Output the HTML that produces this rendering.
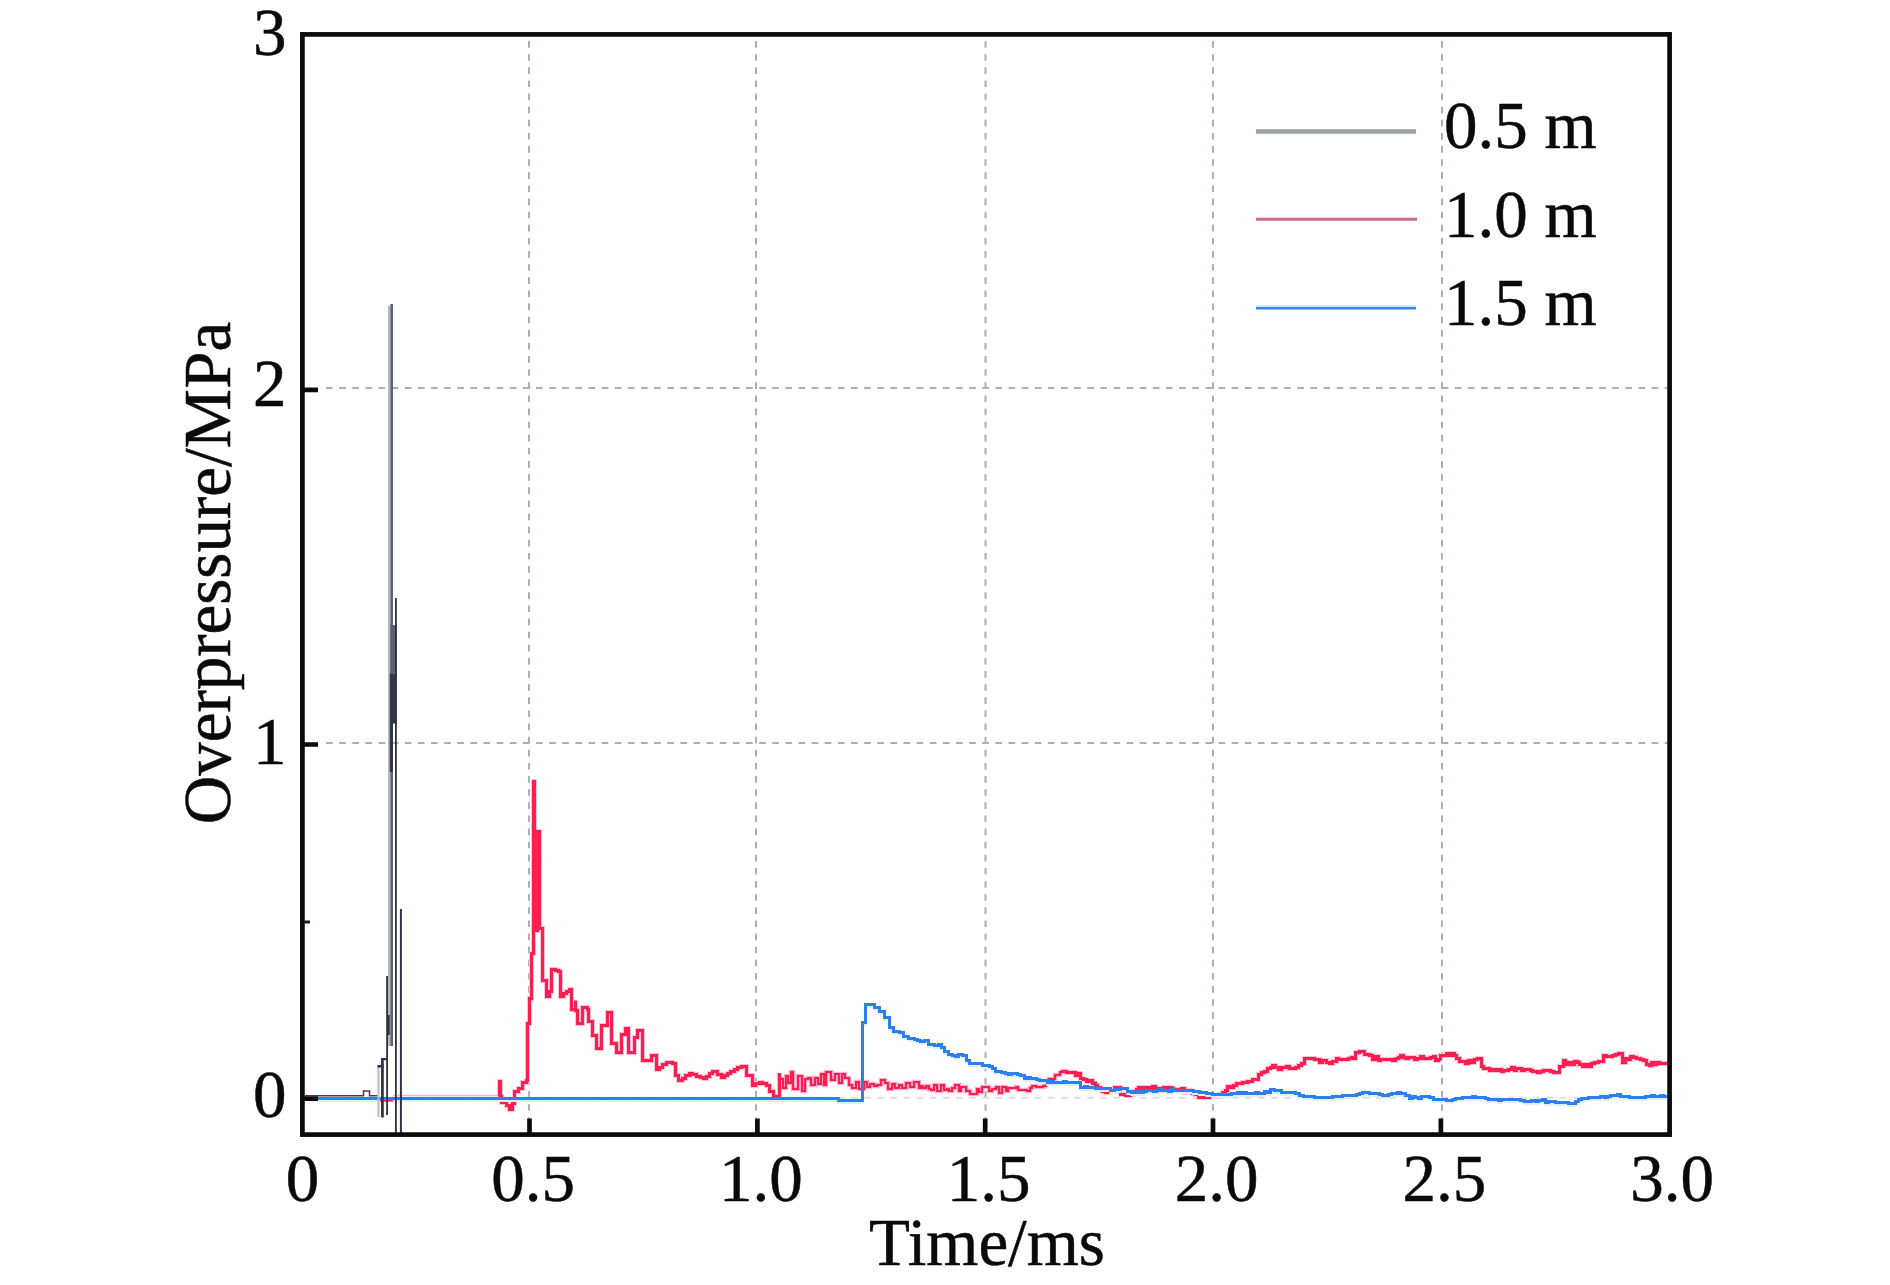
<!DOCTYPE html><html><head><meta charset="utf-8"><style>html,body{margin:0;padding:0;background:#fff;width:1890px;height:1285px;overflow:hidden;position:relative}.t{font-family:'Liberation Serif',serif;font-size:67px;line-height:67px;color:#0a0a0a;-webkit-text-stroke:0.5px #0a0a0a;position:absolute;white-space:nowrap} .yl{text-align:right;width:100px} .xl{text-align:center;width:160px}</style></head><body>
<svg width="1890" height="1285" viewBox="0 0 1890 1285" style="position:absolute;left:0;top:0">
<path d="M529 41V1132 M756 41V1132 M985.5 41V1132 M1213 41V1132 M1442 41V1132 M326 743H1667 M326 388.1H1667" stroke="#a8b2b0" stroke-width="2" stroke-dasharray="6.7 6.425" fill="none"/>
<path d="M326 1097.8H1667" stroke="#dcdfdc" stroke-width="2" stroke-dasharray="6.7 6.425" fill="none"/>
<path d="M393 1095.5H498" stroke="#ffb0cf" stroke-width="1.6" fill="none"/>
<path d="M498.5 1095.5 L499.5 1095.5 L499.5 1081.5 L500.5 1081.5 L500.5 1096.5 L501.5 1096.5 L501.5 1102.5 L506.5 1102.5 L506.5 1105.5 L509.5 1105.5 L509.5 1109.5 L512.5 1109.5 L512.5 1103.5 L514.5 1103.5 L514.5 1091.5 L518.5 1091.5 L518.5 1088.5 L522.5 1088.5 L522.5 1082.5 L526.5 1082.5 L526.5 1080.5 L527.5 1080.5 L527.5 1023.5 L529.5 1023.5 L529.5 998.5 L531.5 998.5 L531.5 953.5 L533.5 953.5 L533.5 781.5 L534.5 781.5 L534.5 930.5 L536.5 930.5 L536.5 930.5 L537.5 930.5 L537.5 831.5 L539.5 831.5 L539.5 831.5 L539.5 831.5 L539.5 928.5 L542.5 928.5 L542.5 941.5 L542.5 941.5 L542.5 980.5 L546.5 980.5 L546.5 996.5 L549.5 996.5 L549.5 991.5 L551.5 991.5 L551.5 969.5 L555.5 969.5 L555.5 970.5 L558.5 970.5 L558.5 971.5 L560.5 971.5 L560.5 996.5 L563.5 996.5 L563.5 993.5 L566.5 993.5 L566.5 991.5 L569.5 991.5 L569.5 989.5 L571.5 989.5 L571.5 1009.5 L575.5 1009.5 L575.5 1000.5 L575.5 1000.5 L575.5 1010.5 L577.5 1010.5 L577.5 1023.5 L582.5 1023.5 L582.5 1007.5 L587.5 1007.5 L587.5 1009.5 L588.5 1009.5 L588.5 1021.5 L592.5 1021.5 L592.5 1035.5 L596.5 1035.5 L596.5 1048.5 L601.5 1048.5 L601.5 1025.5 L607.5 1025.5 L607.5 1012.5 L611.5 1012.5 L611.5 1043.5 L616.5 1043.5 L616.5 1052.5 L621.5 1052.5 L621.5 1034.5 L625.5 1034.5 L625.5 1028.5 L628.5 1028.5 L628.5 1052.5 L634.5 1052.5 L634.5 1037.5 L637.5 1037.5 L637.5 1030.5 L642.5 1030.5 L642.5 1035.5 L642.5 1035.5 L642.5 1060.5 L646.5 1060.5 L646.5 1060.5 L651.5 1060.5 L651.5 1055.5 L656.5 1055.5 L656.5 1069.5 L659.5 1069.5 L659.5 1067.5 L662.5 1067.5 L662.5 1064.5 L666.5 1064.5 L666.5 1062.5 L669.5 1062.5 L669.5 1062.5 L672.5 1062.5 L672.5 1063.5 L675.5 1063.5 L675.5 1063.5 L675.5 1063.5 L675.5 1075.5 L678.5 1075.5 L678.5 1080.5 L682.5 1080.5 L682.5 1078.5 L685.5 1078.5 L685.5 1075.5 L689.5 1075.5 L689.5 1073.5 L692.5 1073.5 L692.5 1074.5 L696.5 1074.5 L696.5 1076.5 L700.5 1076.5 L700.5 1077.5 L703.5 1077.5 L703.5 1078.5 L706.5 1078.5 L706.5 1076.5 L709.5 1076.5 L709.5 1073.5 L712.5 1073.5 L712.5 1071.5 L717.5 1071.5 L717.5 1074.5 L721.5 1074.5 L721.5 1077.5 L724.5 1077.5 L724.5 1075.5 L727.5 1075.5 L727.5 1073.5 L730.5 1073.5 L730.5 1071.5 L734.5 1071.5 L734.5 1069.5 L737.5 1069.5 L737.5 1067.5 L741.5 1067.5 L741.5 1066.5 L746.5 1066.5 L746.5 1075.5 L752.5 1075.5 L752.5 1085.5 L755.5 1085.5 L755.5 1083.5 L759.5 1083.5 L759.5 1082.5 L762.5 1082.5 L762.5 1083.5 L766.5 1083.5 L766.5 1085.5 L769.5 1085.5 L769.5 1091.5 L773.5 1091.5 L773.5 1096.5 L779.5 1096.5 L779.5 1073.5 M1060.5 1071.5 L1063.5 1071.5 L1063.5 1071.5 L1066.5 1071.5 L1066.5 1072.5 L1069.5 1072.5 L1069.5 1072.5 L1072.5 1072.5 L1072.5 1072.5 L1075.5 1072.5 L1075.5 1075.5 L1077.5 1075.5 L1077.5 1073.5 L1080.5 1073.5 L1080.5 1075.5 L1080.5 1075.5 L1080.5 1078.5 L1083.5 1078.5 L1083.5 1079.5 L1086.5 1079.5 L1086.5 1081.5 L1089.5 1081.5 L1089.5 1080.5 L1092.5 1080.5 L1092.5 1083.5 L1095.5 1083.5 L1095.5 1081.5 L1095.5 1081.5 L1095.5 1085.5 L1097.5 1085.5 L1097.5 1087.5 L1100.5 1087.5 L1100.5 1089.5 L1102.5 1089.5 L1102.5 1091.5 L1105.5 1091.5 L1105.5 1092.5 L1108.5 1092.5 L1108.5 1090.5 L1111.5 1090.5 L1111.5 1091.5 L1114.5 1091.5 L1114.5 1087.5 L1117.5 1087.5 L1117.5 1087.5 L1120.5 1087.5 L1120.5 1088.5 L1120.5 1088.5 L1120.5 1094.5 L1122.5 1094.5 L1122.5 1094.5 L1125.5 1094.5 L1125.5 1095.5 L1127.5 1095.5 L1127.5 1095.5 L1130.5 1095.5 L1130.5 1094.5 L1133.5 1094.5 L1133.5 1091.5 L1136.5 1091.5 L1136.5 1089.5 L1138.5 1089.5 L1138.5 1087.5 L1141.5 1087.5 L1141.5 1088.5 L1143.5 1088.5 L1143.5 1087.5 L1146.5 1087.5 L1146.5 1088.5 L1149.5 1088.5 L1149.5 1087.5 L1152.5 1087.5 L1152.5 1086.5 L1155.5 1086.5 L1155.5 1090.5 L1157.5 1090.5 L1157.5 1088.5 L1160.5 1088.5 L1160.5 1089.5 L1163.5 1089.5 L1163.5 1087.5 L1165.5 1087.5 L1165.5 1087.5 L1168.5 1087.5 L1168.5 1087.5 L1171.5 1087.5 L1171.5 1088.5 L1173.5 1088.5 L1173.5 1090.5 L1176.5 1090.5 L1176.5 1089.5 L1179.5 1089.5 L1179.5 1090.5 L1181.5 1090.5 L1181.5 1088.5 L1184.5 1088.5 L1184.5 1092.5 L1187.5 1092.5 L1187.5 1090.5 L1190.5 1090.5 L1190.5 1092.5 L1192.5 1092.5 L1192.5 1093.5 L1195.5 1093.5 L1195.5 1094.5 L1198.5 1094.5 L1198.5 1097.5 L1200.5 1097.5 L1200.5 1097.5 L1203.5 1097.5 L1203.5 1096.5 L1206.5 1096.5 L1206.5 1097.5 L1209.5 1097.5 L1209.5 1095.5 L1212.5 1095.5 L1212.5 1096.5 L1214.5 1096.5 L1214.5 1095.5 L1217.5 1095.5 L1217.5 1096.5 L1219.5 1096.5 L1219.5 1094.5 L1222.5 1094.5 L1222.5 1092.5 L1225.5 1092.5 L1225.5 1091.5 L1225.5 1091.5 L1225.5 1090.5 L1227.5 1090.5 L1227.5 1086.5 L1230.5 1086.5 L1230.5 1087.5 L1233.5 1087.5 L1233.5 1085.5 L1236.5 1085.5 L1236.5 1083.5 L1239.5 1083.5 L1239.5 1083.5 L1242.5 1083.5 L1242.5 1082.5 L1244.5 1082.5 L1244.5 1082.5 L1247.5 1082.5 L1247.5 1081.5 L1249.5 1081.5 L1249.5 1081.5 L1252.5 1081.5 L1252.5 1079.5 L1255.5 1079.5 L1255.5 1079.5 L1258.5 1079.5 L1258.5 1074.5 L1261.5 1074.5 L1261.5 1072.5 L1264.5 1072.5 L1264.5 1071.5 L1267.5 1071.5 L1267.5 1068.5 L1270.5 1068.5 L1270.5 1067.5 L1272.5 1067.5 L1272.5 1065.5 L1275.5 1065.5 L1275.5 1067.5 L1278.5 1067.5 L1278.5 1069.5 L1281.5 1069.5 L1281.5 1067.5 L1283.5 1067.5 L1283.5 1067.5 L1286.5 1067.5 L1286.5 1066.5 L1289.5 1066.5 L1289.5 1068.5 L1292.5 1068.5 L1292.5 1068.5 L1295.5 1068.5 L1295.5 1067.5 L1298.5 1067.5 L1298.5 1065.5 L1301.5 1065.5 L1301.5 1063.5 L1304.5 1063.5 L1304.5 1058.5 L1309.5 1058.5 L1309.5 1058.5 L1311.5 1058.5 L1311.5 1058.5 L1314.5 1058.5 L1314.5 1059.5 L1316.5 1059.5 L1316.5 1059.5 L1319.5 1059.5 L1319.5 1062.5 L1322.5 1062.5 L1322.5 1060.5 L1326.5 1060.5 L1326.5 1062.5 L1329.5 1062.5 L1329.5 1063.5 L1332.5 1063.5 L1332.5 1061.5 L1336.5 1061.5 L1336.5 1058.5 L1338.5 1058.5 L1338.5 1059.5 L1341.5 1059.5 L1341.5 1059.5 L1343.5 1059.5 L1343.5 1059.5 L1346.5 1059.5 L1346.5 1059.5 L1348.5 1059.5 L1348.5 1058.5 L1351.5 1058.5 L1351.5 1057.5 L1353.5 1057.5 L1353.5 1058.5 L1355.5 1058.5 L1355.5 1052.5 L1359.5 1052.5 L1359.5 1051.5 L1364.5 1051.5 L1364.5 1054.5 L1366.5 1054.5 L1366.5 1054.5 L1369.5 1054.5 L1369.5 1055.5 L1372.5 1055.5 L1372.5 1056.5 L1372.5 1056.5 L1372.5 1059.5 L1375.5 1059.5 L1375.5 1056.5 L1378.5 1056.5 L1378.5 1060.5 L1380.5 1060.5 L1380.5 1059.5 L1383.5 1059.5 L1383.5 1059.5 L1386.5 1059.5 L1386.5 1059.5 L1389.5 1059.5 L1389.5 1059.5 L1392.5 1059.5 L1392.5 1060.5 L1395.5 1060.5 L1395.5 1057.5 L1395.5 1057.5 L1395.5 1058.5 L1398.5 1058.5 L1398.5 1057.5 L1400.5 1057.5 L1400.5 1055.5 L1403.5 1055.5 L1403.5 1057.5 L1405.5 1057.5 L1405.5 1058.5 L1408.5 1058.5 L1408.5 1057.5 L1411.5 1057.5 L1411.5 1057.5 L1414.5 1057.5 L1414.5 1059.5 L1417.5 1059.5 L1417.5 1058.5 L1420.5 1058.5 L1420.5 1056.5 L1423.5 1056.5 L1423.5 1058.5 L1425.5 1058.5 L1425.5 1058.5 L1428.5 1058.5 L1428.5 1058.5 L1430.5 1058.5 L1430.5 1057.5 L1433.5 1057.5 L1433.5 1056.5 L1435.5 1056.5 L1435.5 1060.5 L1438.5 1060.5 L1438.5 1059.5 L1440.5 1059.5 L1440.5 1060.5 L1440.5 1060.5 L1440.5 1055.5 L1443.5 1055.5 L1443.5 1055.5 L1446.5 1055.5 L1446.5 1053.5 L1449.5 1053.5 L1449.5 1055.5 L1452.5 1055.5 L1452.5 1053.5 L1454.5 1053.5 L1454.5 1055.5 L1456.5 1055.5 L1456.5 1058.5 L1459.5 1058.5 L1459.5 1061.5 L1462.5 1061.5 L1462.5 1061.5 L1465.5 1061.5 L1465.5 1063.5 L1468.5 1063.5 L1468.5 1060.5 L1471.5 1060.5 L1471.5 1062.5 L1474.5 1062.5 L1474.5 1059.5 L1477.5 1059.5 L1477.5 1058.5 L1481.5 1058.5 L1481.5 1066.5 L1483.5 1066.5 L1483.5 1068.5 L1486.5 1068.5 L1486.5 1068.5 L1489.5 1068.5 L1489.5 1070.5 L1492.5 1070.5 L1492.5 1069.5 L1495.5 1069.5 L1495.5 1070.5 L1498.5 1070.5 L1498.5 1069.5 L1501.5 1069.5 L1501.5 1071.5 L1503.5 1071.5 L1503.5 1070.5 L1506.5 1070.5 L1506.5 1070.5 L1508.5 1070.5 L1508.5 1069.5 L1511.5 1069.5 L1511.5 1067.5 L1514.5 1067.5 L1514.5 1070.5 L1516.5 1070.5 L1516.5 1068.5 L1519.5 1068.5 L1519.5 1068.5 L1521.5 1068.5 L1521.5 1070.5 L1524.5 1070.5 L1524.5 1069.5 L1527.5 1069.5 L1527.5 1069.5 L1530.5 1069.5 L1530.5 1070.5 L1532.5 1070.5 L1532.5 1071.5 L1535.5 1071.5 L1535.5 1071.5 L1537.5 1071.5 L1537.5 1072.5 L1540.5 1072.5 L1540.5 1071.5 L1543.5 1071.5 L1543.5 1070.5 L1545.5 1070.5 L1545.5 1070.5 L1548.5 1070.5 L1548.5 1070.5 L1550.5 1070.5 L1550.5 1071.5 L1553.5 1071.5 L1553.5 1072.5 L1556.5 1072.5 L1556.5 1072.5 L1559.5 1072.5 L1559.5 1066.5 L1563.5 1066.5 L1563.5 1060.5 L1565.5 1060.5 L1565.5 1064.5 L1568.5 1064.5 L1568.5 1062.5 L1571.5 1062.5 L1571.5 1064.5 L1574.5 1064.5 L1574.5 1061.5 L1577.5 1061.5 L1577.5 1062.5 L1579.5 1062.5 L1579.5 1064.5 L1582.5 1064.5 L1582.5 1066.5 L1585.5 1066.5 L1585.5 1064.5 L1588.5 1064.5 L1588.5 1066.5 L1591.5 1066.5 L1591.5 1063.5 L1594.5 1063.5 L1594.5 1062.5 L1598.5 1062.5 L1598.5 1061.5 L1600.5 1061.5 L1600.5 1061.5 L1603.5 1061.5 L1603.5 1055.5 L1606.5 1055.5 L1606.5 1056.5 L1609.5 1056.5 L1609.5 1056.5 L1612.5 1056.5 L1612.5 1055.5 L1615.5 1055.5 L1615.5 1054.5 L1618.5 1054.5 L1618.5 1053.5 L1622.5 1053.5 L1622.5 1055.5 L1622.5 1055.5 L1622.5 1062.5 L1625.5 1062.5 L1625.5 1058.5 L1627.5 1058.5 L1627.5 1059.5 L1630.5 1059.5 L1630.5 1056.5 L1633.5 1056.5 L1633.5 1057.5 L1636.5 1057.5 L1636.5 1058.5 L1640.5 1058.5 L1640.5 1059.5 L1643.5 1059.5 L1643.5 1060.5 L1646.5 1060.5 L1646.5 1064.5 L1649.5 1064.5 L1649.5 1065.5 L1651.5 1065.5 L1651.5 1062.5 L1654.5 1062.5 L1654.5 1064.5 L1656.5 1064.5 L1656.5 1062.5 L1659.5 1062.5 L1659.5 1063.5 L1661.5 1063.5 L1661.5 1063.5 L1664.5 1063.5 L1664.5 1063.5 L1667.5 1063.5 L1667.5 1063.5" stroke="#ffc0dc" stroke-width="5" fill="none"/>
<path d="M779 1073 L779 1073 L779 1079 L783 1079 L783 1088 L786 1088 L786 1076 L788 1076 L788 1083 L791 1083 L791 1072 L793 1072 L793 1089 L798 1089 L798 1076 L802 1076 L802 1091 L805 1091 L805 1079 L808 1079 L808 1078 L811 1078 L811 1085 L815 1085 L815 1078 L818 1078 L818 1084 L821 1084 L821 1074 L824 1074 L824 1085 L826 1085 L826 1072 L831 1072 L831 1080 L835 1080 L835 1074 L839 1074 L839 1083 L842 1083 L842 1074 L845 1074 L845 1078 L849 1078 L849 1085 L852 1085 L852 1088 L856 1088 L856 1082 L859 1082 L859 1089 L864 1089 L864 1082 L867 1082 L867 1087 L870 1087 L870 1084 L874 1084 L874 1086 L877 1086 L877 1085 L881 1085 L881 1080 L885 1080 L885 1083 L888 1083 L888 1089 L892 1089 L892 1084 L895 1084 L895 1088 L899 1088 L899 1085 L902 1085 L902 1088 L906 1088 L906 1083 L910 1083 L910 1087 L914 1087 L914 1082 L919 1082 L919 1088 L921 1088 L921 1086 L923 1086 L923 1088 L926 1088 L926 1086 L929 1086 L929 1089 L931 1089 L931 1090 L934 1090 L934 1085 L937 1085 L937 1091 L941 1091 L941 1085 L944 1085 L944 1090 L947 1090 L947 1089 L949 1089 L949 1091 L952 1091 L952 1088 L955 1088 L955 1085 L959 1085 L959 1091 L961 1091 L961 1087 L966 1087 L966 1091 L970 1091 L970 1094 L974 1094 L974 1094 L977 1094 L977 1089 L979 1089 L979 1092 L982 1092 L982 1087 L985 1087 L985 1087 L989 1087 L989 1091 L992 1091 L992 1089 L996 1089 L996 1087 L999 1087 L999 1093 L1002 1093 L1002 1087 L1006 1087 L1006 1091 L1008 1091 L1008 1088 L1012 1088 L1012 1088 L1016 1088 L1016 1087 L1018 1087 L1018 1090 L1023 1090 L1023 1090 L1027 1090 L1027 1091 L1030 1091 L1030 1088 L1032 1088 L1032 1086 L1036 1086 L1036 1087 L1040 1087 L1040 1087 L1043 1087 L1043 1086 L1046 1086 L1046 1081 L1049 1081 L1049 1079 L1052 1079 L1052 1079 L1055 1079 L1055 1075 L1060 1075 L1060 1071" stroke="#ffb0d0" stroke-width="4.4" fill="none"/>
<path d="M498.5 1095.5 L499.5 1095.5 L499.5 1081.5 L500.5 1081.5 L500.5 1096.5 L501.5 1096.5 L501.5 1102.5 L506.5 1102.5 L506.5 1105.5 L509.5 1105.5 L509.5 1109.5 L512.5 1109.5 L512.5 1103.5 L514.5 1103.5 L514.5 1091.5 L518.5 1091.5 L518.5 1088.5 L522.5 1088.5 L522.5 1082.5 L526.5 1082.5 L526.5 1080.5 L527.5 1080.5 L527.5 1023.5 L529.5 1023.5 L529.5 998.5 L531.5 998.5 L531.5 953.5 L533.5 953.5 L533.5 781.5 L534.5 781.5 L534.5 930.5 L536.5 930.5 L536.5 930.5 L537.5 930.5 L537.5 831.5 L539.5 831.5 L539.5 831.5 L539.5 831.5 L539.5 928.5 L542.5 928.5 L542.5 941.5 L542.5 941.5 L542.5 980.5 L546.5 980.5 L546.5 996.5 L549.5 996.5 L549.5 991.5 L551.5 991.5 L551.5 969.5 L555.5 969.5 L555.5 970.5 L558.5 970.5 L558.5 971.5 L560.5 971.5 L560.5 996.5 L563.5 996.5 L563.5 993.5 L566.5 993.5 L566.5 991.5 L569.5 991.5 L569.5 989.5 L571.5 989.5 L571.5 1009.5 L575.5 1009.5 L575.5 1000.5 L575.5 1000.5 L575.5 1010.5 L577.5 1010.5 L577.5 1023.5 L582.5 1023.5 L582.5 1007.5 L587.5 1007.5 L587.5 1009.5 L588.5 1009.5 L588.5 1021.5 L592.5 1021.5 L592.5 1035.5 L596.5 1035.5 L596.5 1048.5 L601.5 1048.5 L601.5 1025.5 L607.5 1025.5 L607.5 1012.5 L611.5 1012.5 L611.5 1043.5 L616.5 1043.5 L616.5 1052.5 L621.5 1052.5 L621.5 1034.5 L625.5 1034.5 L625.5 1028.5 L628.5 1028.5 L628.5 1052.5 L634.5 1052.5 L634.5 1037.5 L637.5 1037.5 L637.5 1030.5 L642.5 1030.5 L642.5 1035.5 L642.5 1035.5 L642.5 1060.5 L646.5 1060.5 L646.5 1060.5 L651.5 1060.5 L651.5 1055.5 L656.5 1055.5 L656.5 1069.5 L659.5 1069.5 L659.5 1067.5 L662.5 1067.5 L662.5 1064.5 L666.5 1064.5 L666.5 1062.5 L669.5 1062.5 L669.5 1062.5 L672.5 1062.5 L672.5 1063.5 L675.5 1063.5 L675.5 1063.5 L675.5 1063.5 L675.5 1075.5 L678.5 1075.5 L678.5 1080.5 L682.5 1080.5 L682.5 1078.5 L685.5 1078.5 L685.5 1075.5 L689.5 1075.5 L689.5 1073.5 L692.5 1073.5 L692.5 1074.5 L696.5 1074.5 L696.5 1076.5 L700.5 1076.5 L700.5 1077.5 L703.5 1077.5 L703.5 1078.5 L706.5 1078.5 L706.5 1076.5 L709.5 1076.5 L709.5 1073.5 L712.5 1073.5 L712.5 1071.5 L717.5 1071.5 L717.5 1074.5 L721.5 1074.5 L721.5 1077.5 L724.5 1077.5 L724.5 1075.5 L727.5 1075.5 L727.5 1073.5 L730.5 1073.5 L730.5 1071.5 L734.5 1071.5 L734.5 1069.5 L737.5 1069.5 L737.5 1067.5 L741.5 1067.5 L741.5 1066.5 L746.5 1066.5 L746.5 1075.5 L752.5 1075.5 L752.5 1085.5 L755.5 1085.5 L755.5 1083.5 L759.5 1083.5 L759.5 1082.5 L762.5 1082.5 L762.5 1083.5 L766.5 1083.5 L766.5 1085.5 L769.5 1085.5 L769.5 1091.5 L773.5 1091.5 L773.5 1096.5 L779.5 1096.5 L779.5 1073.5 M1060.5 1071.5 L1063.5 1071.5 L1063.5 1071.5 L1066.5 1071.5 L1066.5 1072.5 L1069.5 1072.5 L1069.5 1072.5 L1072.5 1072.5 L1072.5 1072.5 L1075.5 1072.5 L1075.5 1075.5 L1077.5 1075.5 L1077.5 1073.5 L1080.5 1073.5 L1080.5 1075.5 L1080.5 1075.5 L1080.5 1078.5 L1083.5 1078.5 L1083.5 1079.5 L1086.5 1079.5 L1086.5 1081.5 L1089.5 1081.5 L1089.5 1080.5 L1092.5 1080.5 L1092.5 1083.5 L1095.5 1083.5 L1095.5 1081.5 L1095.5 1081.5 L1095.5 1085.5 L1097.5 1085.5 L1097.5 1087.5 L1100.5 1087.5 L1100.5 1089.5 L1102.5 1089.5 L1102.5 1091.5 L1105.5 1091.5 L1105.5 1092.5 L1108.5 1092.5 L1108.5 1090.5 L1111.5 1090.5 L1111.5 1091.5 L1114.5 1091.5 L1114.5 1087.5 L1117.5 1087.5 L1117.5 1087.5 L1120.5 1087.5 L1120.5 1088.5 L1120.5 1088.5 L1120.5 1094.5 L1122.5 1094.5 L1122.5 1094.5 L1125.5 1094.5 L1125.5 1095.5 L1127.5 1095.5 L1127.5 1095.5 L1130.5 1095.5 L1130.5 1094.5 L1133.5 1094.5 L1133.5 1091.5 L1136.5 1091.5 L1136.5 1089.5 L1138.5 1089.5 L1138.5 1087.5 L1141.5 1087.5 L1141.5 1088.5 L1143.5 1088.5 L1143.5 1087.5 L1146.5 1087.5 L1146.5 1088.5 L1149.5 1088.5 L1149.5 1087.5 L1152.5 1087.5 L1152.5 1086.5 L1155.5 1086.5 L1155.5 1090.5 L1157.5 1090.5 L1157.5 1088.5 L1160.5 1088.5 L1160.5 1089.5 L1163.5 1089.5 L1163.5 1087.5 L1165.5 1087.5 L1165.5 1087.5 L1168.5 1087.5 L1168.5 1087.5 L1171.5 1087.5 L1171.5 1088.5 L1173.5 1088.5 L1173.5 1090.5 L1176.5 1090.5 L1176.5 1089.5 L1179.5 1089.5 L1179.5 1090.5 L1181.5 1090.5 L1181.5 1088.5 L1184.5 1088.5 L1184.5 1092.5 L1187.5 1092.5 L1187.5 1090.5 L1190.5 1090.5 L1190.5 1092.5 L1192.5 1092.5 L1192.5 1093.5 L1195.5 1093.5 L1195.5 1094.5 L1198.5 1094.5 L1198.5 1097.5 L1200.5 1097.5 L1200.5 1097.5 L1203.5 1097.5 L1203.5 1096.5 L1206.5 1096.5 L1206.5 1097.5 L1209.5 1097.5 L1209.5 1095.5 L1212.5 1095.5 L1212.5 1096.5 L1214.5 1096.5 L1214.5 1095.5 L1217.5 1095.5 L1217.5 1096.5 L1219.5 1096.5 L1219.5 1094.5 L1222.5 1094.5 L1222.5 1092.5 L1225.5 1092.5 L1225.5 1091.5 L1225.5 1091.5 L1225.5 1090.5 L1227.5 1090.5 L1227.5 1086.5 L1230.5 1086.5 L1230.5 1087.5 L1233.5 1087.5 L1233.5 1085.5 L1236.5 1085.5 L1236.5 1083.5 L1239.5 1083.5 L1239.5 1083.5 L1242.5 1083.5 L1242.5 1082.5 L1244.5 1082.5 L1244.5 1082.5 L1247.5 1082.5 L1247.5 1081.5 L1249.5 1081.5 L1249.5 1081.5 L1252.5 1081.5 L1252.5 1079.5 L1255.5 1079.5 L1255.5 1079.5 L1258.5 1079.5 L1258.5 1074.5 L1261.5 1074.5 L1261.5 1072.5 L1264.5 1072.5 L1264.5 1071.5 L1267.5 1071.5 L1267.5 1068.5 L1270.5 1068.5 L1270.5 1067.5 L1272.5 1067.5 L1272.5 1065.5 L1275.5 1065.5 L1275.5 1067.5 L1278.5 1067.5 L1278.5 1069.5 L1281.5 1069.5 L1281.5 1067.5 L1283.5 1067.5 L1283.5 1067.5 L1286.5 1067.5 L1286.5 1066.5 L1289.5 1066.5 L1289.5 1068.5 L1292.5 1068.5 L1292.5 1068.5 L1295.5 1068.5 L1295.5 1067.5 L1298.5 1067.5 L1298.5 1065.5 L1301.5 1065.5 L1301.5 1063.5 L1304.5 1063.5 L1304.5 1058.5 L1309.5 1058.5 L1309.5 1058.5 L1311.5 1058.5 L1311.5 1058.5 L1314.5 1058.5 L1314.5 1059.5 L1316.5 1059.5 L1316.5 1059.5 L1319.5 1059.5 L1319.5 1062.5 L1322.5 1062.5 L1322.5 1060.5 L1326.5 1060.5 L1326.5 1062.5 L1329.5 1062.5 L1329.5 1063.5 L1332.5 1063.5 L1332.5 1061.5 L1336.5 1061.5 L1336.5 1058.5 L1338.5 1058.5 L1338.5 1059.5 L1341.5 1059.5 L1341.5 1059.5 L1343.5 1059.5 L1343.5 1059.5 L1346.5 1059.5 L1346.5 1059.5 L1348.5 1059.5 L1348.5 1058.5 L1351.5 1058.5 L1351.5 1057.5 L1353.5 1057.5 L1353.5 1058.5 L1355.5 1058.5 L1355.5 1052.5 L1359.5 1052.5 L1359.5 1051.5 L1364.5 1051.5 L1364.5 1054.5 L1366.5 1054.5 L1366.5 1054.5 L1369.5 1054.5 L1369.5 1055.5 L1372.5 1055.5 L1372.5 1056.5 L1372.5 1056.5 L1372.5 1059.5 L1375.5 1059.5 L1375.5 1056.5 L1378.5 1056.5 L1378.5 1060.5 L1380.5 1060.5 L1380.5 1059.5 L1383.5 1059.5 L1383.5 1059.5 L1386.5 1059.5 L1386.5 1059.5 L1389.5 1059.5 L1389.5 1059.5 L1392.5 1059.5 L1392.5 1060.5 L1395.5 1060.5 L1395.5 1057.5 L1395.5 1057.5 L1395.5 1058.5 L1398.5 1058.5 L1398.5 1057.5 L1400.5 1057.5 L1400.5 1055.5 L1403.5 1055.5 L1403.5 1057.5 L1405.5 1057.5 L1405.5 1058.5 L1408.5 1058.5 L1408.5 1057.5 L1411.5 1057.5 L1411.5 1057.5 L1414.5 1057.5 L1414.5 1059.5 L1417.5 1059.5 L1417.5 1058.5 L1420.5 1058.5 L1420.5 1056.5 L1423.5 1056.5 L1423.5 1058.5 L1425.5 1058.5 L1425.5 1058.5 L1428.5 1058.5 L1428.5 1058.5 L1430.5 1058.5 L1430.5 1057.5 L1433.5 1057.5 L1433.5 1056.5 L1435.5 1056.5 L1435.5 1060.5 L1438.5 1060.5 L1438.5 1059.5 L1440.5 1059.5 L1440.5 1060.5 L1440.5 1060.5 L1440.5 1055.5 L1443.5 1055.5 L1443.5 1055.5 L1446.5 1055.5 L1446.5 1053.5 L1449.5 1053.5 L1449.5 1055.5 L1452.5 1055.5 L1452.5 1053.5 L1454.5 1053.5 L1454.5 1055.5 L1456.5 1055.5 L1456.5 1058.5 L1459.5 1058.5 L1459.5 1061.5 L1462.5 1061.5 L1462.5 1061.5 L1465.5 1061.5 L1465.5 1063.5 L1468.5 1063.5 L1468.5 1060.5 L1471.5 1060.5 L1471.5 1062.5 L1474.5 1062.5 L1474.5 1059.5 L1477.5 1059.5 L1477.5 1058.5 L1481.5 1058.5 L1481.5 1066.5 L1483.5 1066.5 L1483.5 1068.5 L1486.5 1068.5 L1486.5 1068.5 L1489.5 1068.5 L1489.5 1070.5 L1492.5 1070.5 L1492.5 1069.5 L1495.5 1069.5 L1495.5 1070.5 L1498.5 1070.5 L1498.5 1069.5 L1501.5 1069.5 L1501.5 1071.5 L1503.5 1071.5 L1503.5 1070.5 L1506.5 1070.5 L1506.5 1070.5 L1508.5 1070.5 L1508.5 1069.5 L1511.5 1069.5 L1511.5 1067.5 L1514.5 1067.5 L1514.5 1070.5 L1516.5 1070.5 L1516.5 1068.5 L1519.5 1068.5 L1519.5 1068.5 L1521.5 1068.5 L1521.5 1070.5 L1524.5 1070.5 L1524.5 1069.5 L1527.5 1069.5 L1527.5 1069.5 L1530.5 1069.5 L1530.5 1070.5 L1532.5 1070.5 L1532.5 1071.5 L1535.5 1071.5 L1535.5 1071.5 L1537.5 1071.5 L1537.5 1072.5 L1540.5 1072.5 L1540.5 1071.5 L1543.5 1071.5 L1543.5 1070.5 L1545.5 1070.5 L1545.5 1070.5 L1548.5 1070.5 L1548.5 1070.5 L1550.5 1070.5 L1550.5 1071.5 L1553.5 1071.5 L1553.5 1072.5 L1556.5 1072.5 L1556.5 1072.5 L1559.5 1072.5 L1559.5 1066.5 L1563.5 1066.5 L1563.5 1060.5 L1565.5 1060.5 L1565.5 1064.5 L1568.5 1064.5 L1568.5 1062.5 L1571.5 1062.5 L1571.5 1064.5 L1574.5 1064.5 L1574.5 1061.5 L1577.5 1061.5 L1577.5 1062.5 L1579.5 1062.5 L1579.5 1064.5 L1582.5 1064.5 L1582.5 1066.5 L1585.5 1066.5 L1585.5 1064.5 L1588.5 1064.5 L1588.5 1066.5 L1591.5 1066.5 L1591.5 1063.5 L1594.5 1063.5 L1594.5 1062.5 L1598.5 1062.5 L1598.5 1061.5 L1600.5 1061.5 L1600.5 1061.5 L1603.5 1061.5 L1603.5 1055.5 L1606.5 1055.5 L1606.5 1056.5 L1609.5 1056.5 L1609.5 1056.5 L1612.5 1056.5 L1612.5 1055.5 L1615.5 1055.5 L1615.5 1054.5 L1618.5 1054.5 L1618.5 1053.5 L1622.5 1053.5 L1622.5 1055.5 L1622.5 1055.5 L1622.5 1062.5 L1625.5 1062.5 L1625.5 1058.5 L1627.5 1058.5 L1627.5 1059.5 L1630.5 1059.5 L1630.5 1056.5 L1633.5 1056.5 L1633.5 1057.5 L1636.5 1057.5 L1636.5 1058.5 L1640.5 1058.5 L1640.5 1059.5 L1643.5 1059.5 L1643.5 1060.5 L1646.5 1060.5 L1646.5 1064.5 L1649.5 1064.5 L1649.5 1065.5 L1651.5 1065.5 L1651.5 1062.5 L1654.5 1062.5 L1654.5 1064.5 L1656.5 1064.5 L1656.5 1062.5 L1659.5 1062.5 L1659.5 1063.5 L1661.5 1063.5 L1661.5 1063.5 L1664.5 1063.5 L1664.5 1063.5 L1667.5 1063.5 L1667.5 1063.5" stroke="#ff1f4e" stroke-width="3" fill="none"/>
<path d="M779 1073 L779 1073 L779 1079 L783 1079 L783 1088 L786 1088 L786 1076 L788 1076 L788 1083 L791 1083 L791 1072 L793 1072 L793 1089 L798 1089 L798 1076 L802 1076 L802 1091 L805 1091 L805 1079 L808 1079 L808 1078 L811 1078 L811 1085 L815 1085 L815 1078 L818 1078 L818 1084 L821 1084 L821 1074 L824 1074 L824 1085 L826 1085 L826 1072 L831 1072 L831 1080 L835 1080 L835 1074 L839 1074 L839 1083 L842 1083 L842 1074 L845 1074 L845 1078 L849 1078 L849 1085 L852 1085 L852 1088 L856 1088 L856 1082 L859 1082 L859 1089 L864 1089 L864 1082 L867 1082 L867 1087 L870 1087 L870 1084 L874 1084 L874 1086 L877 1086 L877 1085 L881 1085 L881 1080 L885 1080 L885 1083 L888 1083 L888 1089 L892 1089 L892 1084 L895 1084 L895 1088 L899 1088 L899 1085 L902 1085 L902 1088 L906 1088 L906 1083 L910 1083 L910 1087 L914 1087 L914 1082 L919 1082 L919 1088 L921 1088 L921 1086 L923 1086 L923 1088 L926 1088 L926 1086 L929 1086 L929 1089 L931 1089 L931 1090 L934 1090 L934 1085 L937 1085 L937 1091 L941 1091 L941 1085 L944 1085 L944 1090 L947 1090 L947 1089 L949 1089 L949 1091 L952 1091 L952 1088 L955 1088 L955 1085 L959 1085 L959 1091 L961 1091 L961 1087 L966 1087 L966 1091 L970 1091 L970 1094 L974 1094 L974 1094 L977 1094 L977 1089 L979 1089 L979 1092 L982 1092 L982 1087 L985 1087 L985 1087 L989 1087 L989 1091 L992 1091 L992 1089 L996 1089 L996 1087 L999 1087 L999 1093 L1002 1093 L1002 1087 L1006 1087 L1006 1091 L1008 1091 L1008 1088 L1012 1088 L1012 1088 L1016 1088 L1016 1087 L1018 1087 L1018 1090 L1023 1090 L1023 1090 L1027 1090 L1027 1091 L1030 1091 L1030 1088 L1032 1088 L1032 1086 L1036 1086 L1036 1087 L1040 1087 L1040 1087 L1043 1087 L1043 1086 L1046 1086 L1046 1081 L1049 1081 L1049 1079 L1052 1079 L1052 1079 L1055 1079 L1055 1075 L1060 1075 L1060 1071" stroke="#ff1f4e" stroke-width="2.2" fill="none"/>
<path d="M317.5 1100.7 L320.5 1100.7 L320.5 1100.7 L323.5 1100.7 L323.5 1100.7 L326.5 1100.7 L326.5 1100.7 L329.5 1100.7 L329.5 1100.7 L332.5 1100.7 L332.5 1100.7 L335.5 1100.7 L335.5 1100.7 L338.5 1100.7 L338.5 1100.7 L341.5 1100.7 L341.5 1100.7 L344.5 1100.7 L344.5 1100.7 L347.5 1100.7 L347.5 1100.7 L350.5 1100.7 L350.5 1100.7 L353.5 1100.7 L353.5 1100.7 L356.5 1100.7 L356.5 1100.7 L359.5 1100.7 L359.5 1100.7 L362.5 1100.7 L362.5 1100.7 L365.5 1100.7 L365.5 1100.7 L368.5 1100.7 L368.5 1100.7 L371.5 1100.7 L371.5 1100.7 L374.5 1100.7 L374.5 1100.7 L377.5 1100.7 L377.5 1100.7 L380.5 1100.7 L380.5 1100.7 L383.5 1100.7 L383.5 1100.7 L386.5 1100.7 L386.5 1100.7 L389.5 1100.7 L389.5 1100.7 L392.5 1100.7 L392.5 1100.7 L395.5 1100.7 L395.5 1100.7 L398.5 1100.7 L398.5 1100.7 L401.5 1100.7 L401.5 1100.7 L404.5 1100.7 L404.5 1100.7 L407.5 1100.7 L407.5 1100.7 L410.5 1100.7 L410.5 1100.7 L413.5 1100.7 L413.5 1100.7 L416.5 1100.7 L416.5 1100.7 L419.5 1100.7 L419.5 1100.7 L422.5 1100.7 L422.5 1100.7 L425.5 1100.7 L425.5 1100.7 L428.5 1100.7 L428.5 1100.7 L431.5 1100.7 L431.5 1100.7 L434.5 1100.7 L434.5 1100.7 L437.5 1100.7 L437.5 1100.7 L440.5 1100.7 L440.5 1100.7 L443.5 1100.7 L443.5 1100.7 L446.5 1100.7 L446.5 1100.7 L449.5 1100.7 L449.5 1100.7 L452.5 1100.7 L452.5 1100.7 L455.5 1100.7 L455.5 1100.7 L458.5 1100.7 L458.5 1100.7 L461.5 1100.7 L461.5 1100.7 L464.5 1100.7 L464.5 1100.7 L467.5 1100.7 L467.5 1100.7 L470.5 1100.7 L470.5 1100.7 L473.5 1100.7 L473.5 1100.7 L476.5 1100.7 L476.5 1100.7 L479.5 1100.7 L479.5 1100.7 L482.5 1100.7 L482.5 1100.7 L485.5 1100.7 L485.5 1100.7 L488.5 1100.7 L488.5 1100.7 L491.5 1100.7 L491.5 1100.7 L494.5 1100.7 L494.5 1100.7 L497.5 1100.7 L497.5 1100.7 L500.5 1100.7 L500.5 1100.7 L503.5 1100.7 L503.5 1100.7 L506.5 1100.7 L506.5 1100.7 L509.5 1100.7 L509.5 1100.7 L512.5 1100.7 L512.5 1100.7 L515.5 1100.7 L515.5 1100.7 L518.5 1100.7 L518.5 1100.7 L521.5 1100.7 L521.5 1100.7 L524.5 1100.7 L524.5 1100.7 L527.5 1100.7 L527.5 1100.7 L530.5 1100.7 L530.5 1100.7 L533.5 1100.7 L533.5 1100.7 L536.5 1100.7 L536.5 1100.7 L539.5 1100.7 L539.5 1100.7 L542.5 1100.7 L542.5 1100.7 L545.5 1100.7 L545.5 1100.7 L548.5 1100.7 L548.5 1100.7 L551.5 1100.7 L551.5 1100.7 L554.5 1100.7 L554.5 1100.7 L557.5 1100.7 L557.5 1100.7 L560.5 1100.7 L560.5 1100.7 L563.5 1100.7 L563.5 1100.7 L566.5 1100.7 L566.5 1100.7 L569.5 1100.7 L569.5 1100.7 L572.5 1100.7 L572.5 1100.7 L575.5 1100.7 L575.5 1100.7 L579.5 1100.7 L579.5 1100.7 L582.5 1100.7 L582.5 1100.7 L585.5 1100.7 L585.5 1100.7 L588.5 1100.7 L588.5 1100.7 L591.5 1100.7 L591.5 1100.7 L594.5 1100.7 L594.5 1100.7 L597.5 1100.7 L597.5 1100.7 L600.5 1100.7 L600.5 1100.7 L603.5 1100.7 L603.5 1100.7 L606.5 1100.7 L606.5 1100.7 L609.5 1100.7 L609.5 1100.7 L612.5 1100.7 L612.5 1100.7 L615.5 1100.7 L615.5 1100.7 L618.5 1100.7 L618.5 1100.7 L621.5 1100.7 L621.5 1100.7 L624.5 1100.7 L624.5 1100.7 L627.5 1100.7 L627.5 1100.7 L630.5 1100.7 L630.5 1100.7 L633.5 1100.7 L633.5 1100.7 L636.5 1100.7 L636.5 1100.7 L639.5 1100.7 L639.5 1100.7 L642.5 1100.7 L642.5 1100.7 L645.5 1100.7 L645.5 1100.7 L648.5 1100.7 L648.5 1100.7 L651.5 1100.7 L651.5 1100.7 L654.5 1100.7 L654.5 1100.7 L657.5 1100.7 L657.5 1100.7 L660.5 1100.7 L660.5 1100.7 L663.5 1100.7 L663.5 1100.7 L666.5 1100.7 L666.5 1100.7 L669.5 1100.7 L669.5 1100.7 L672.5 1100.7 L672.5 1100.7 L675.5 1100.7 L675.5 1100.7 L678.5 1100.7 L678.5 1100.7 L681.5 1100.7 L681.5 1100.7 L684.5 1100.7 L684.5 1100.7 L687.5 1100.7 L687.5 1100.7 L690.5 1100.7 L690.5 1100.7 L693.5 1100.7 L693.5 1100.7 L696.5 1100.7 L696.5 1100.7 L699.5 1100.7 L699.5 1100.7 L702.5 1100.7 L702.5 1100.7 L705.5 1100.7 L705.5 1100.7 L708.5 1100.7 L708.5 1100.7 L711.5 1100.7 L711.5 1100.7 L714.5 1100.7 L714.5 1100.7 L717.5 1100.7 L717.5 1100.7 L720.5 1100.7 L720.5 1100.7 L723.5 1100.7 L723.5 1100.7 L726.5 1100.7 L726.5 1100.7 L729.5 1100.7 L729.5 1100.7 L732.5 1100.7 L732.5 1100.7 L735.5 1100.7 L735.5 1100.7 L738.5 1100.7 L738.5 1100.7 L741.5 1100.7 L741.5 1100.7 L744.5 1100.7 L744.5 1100.7 L747.5 1100.7 L747.5 1100.7 L750.5 1100.7 L750.5 1100.7 L753.5 1100.7 L753.5 1100.7 L756.5 1100.7 L756.5 1100.7 L759.5 1100.7 L759.5 1100.7 L762.5 1100.7 L762.5 1100.7 L765.5 1100.7 L765.5 1100.7 L768.5 1100.7 L768.5 1100.7 L771.5 1100.7 L771.5 1100.7 L774.5 1100.7 L774.5 1100.7 L777.5 1100.7 L777.5 1100.7 L780.5 1100.7 L780.5 1100.7 L783.5 1100.7 L783.5 1100.7 L786.5 1100.7 L786.5 1100.7 L789.5 1100.7 L789.5 1100.7 L792.5 1100.7 L792.5 1100.7 L795.5 1100.7 L795.5 1100.7 L798.5 1100.7 L798.5 1100.7 L801.5 1100.7 L801.5 1100.7 L804.5 1100.7 L804.5 1100.7 L807.5 1100.7 L807.5 1100.7 L810.5 1100.7 L810.5 1100.7 L813.5 1100.7 L813.5 1100.7 L816.5 1100.7 L816.5 1100.7 L819.5 1100.7 L819.5 1100.7 L822.5 1100.7 L822.5 1100.7 L825.5 1100.7 L825.5 1100.7 L828.5 1100.7 L828.5 1100.7 L831.5 1100.7 L831.5 1100.7 L834.5 1100.7 L834.5 1100.7 L838.5 1100.7 L838.5 1100.7 L838.5 1100.7 L838.5 1102.7 L841.5 1102.7 L841.5 1102.7 L844.5 1102.7 L844.5 1102.7 L847.5 1102.7 L847.5 1102.7 L850.5 1102.7 L850.5 1102.7 L853.5 1102.7 L853.5 1102.7 L856.5 1102.7 L856.5 1102.7 L859.5 1102.7 L859.5 1102.7 L862.5 1102.7 L862.5 1102.7 L862.5 1102.7 L862.5 1024.7 L865.5 1024.7 L865.5 1024.7 L865.5 1024.7 L865.5 1006.7 L868.5 1006.7 L868.5 1006.7 L871.5 1006.7 L871.5 1006.7 L874.5 1006.7 L874.5 1009.7 L879.5 1009.7 L879.5 1013.7 L884.5 1013.7 L884.5 1019.7 L889.5 1019.7 L889.5 1024.7 L889.5 1024.7 L889.5 1029.7 L893.5 1029.7 L893.5 1033.7 L896.5 1033.7 L896.5 1033.7 L899.5 1033.7 L899.5 1034.7 L903.5 1034.7 L903.5 1034.7 L903.5 1034.7 L903.5 1038.7 L908.5 1038.7 L908.5 1040.7 L911.5 1040.7 L911.5 1040.7 L914.5 1040.7 L914.5 1041.7 L917.5 1041.7 L917.5 1042.7 L920.5 1042.7 L920.5 1043.7 L924.5 1043.7 L924.5 1042.7 L928.5 1042.7 L928.5 1046.7 L931.5 1046.7 L931.5 1046.7 L934.5 1046.7 L934.5 1047.7 L938.5 1047.7 L938.5 1046.7 L941.5 1046.7 L941.5 1049.7 L944.5 1049.7 L944.5 1053.7 L948.5 1053.7 L948.5 1056.7 L952.5 1056.7 L952.5 1057.7 L955.5 1057.7 L955.5 1058.7 L958.5 1058.7 L958.5 1056.7 L962.5 1056.7 L962.5 1057.7 L966.5 1057.7 L966.5 1062.7 L969.5 1062.7 L969.5 1065.7 L973.5 1065.7 L973.5 1065.7 L976.5 1065.7 L976.5 1065.7 L979.5 1065.7 L979.5 1065.7 L982.5 1065.7 L982.5 1067.7 L985.5 1067.7 L985.5 1067.7 L989.5 1067.7 L989.5 1068.7 L992.5 1068.7 L992.5 1070.7 L995.5 1070.7 L995.5 1073.7 L998.5 1073.7 L998.5 1073.7 L1001.5 1073.7 L1001.5 1074.7 L1005.5 1074.7 L1005.5 1075.7 L1008.5 1075.7 L1008.5 1076.7 L1011.5 1076.7 L1011.5 1075.7 L1014.5 1075.7 L1014.5 1075.7 L1017.5 1075.7 L1017.5 1076.7 L1020.5 1076.7 L1020.5 1077.7 L1024.5 1077.7 L1024.5 1080.7 L1027.5 1080.7 L1027.5 1079.7 L1030.5 1079.7 L1030.5 1080.7 L1033.5 1080.7 L1033.5 1080.7 L1036.5 1080.7 L1036.5 1081.7 L1039.5 1081.7 L1039.5 1082.7 L1043.5 1082.7 L1043.5 1082.7 L1047.5 1082.7 L1047.5 1084.7 L1050.5 1084.7 L1050.5 1083.7 L1053.5 1083.7 L1053.5 1084.7 L1056.5 1084.7 L1056.5 1084.7 L1060.5 1084.7 L1060.5 1084.7 L1063.5 1084.7 L1063.5 1083.7 L1066.5 1083.7 L1066.5 1084.7 L1070.5 1084.7 L1070.5 1084.7 L1073.5 1084.7 L1073.5 1084.7 L1077.5 1084.7 L1077.5 1084.7 L1080.5 1084.7 L1080.5 1085.7 L1080.5 1085.7 L1080.5 1089.7 L1084.5 1089.7 L1084.5 1088.7 L1087.5 1088.7 L1087.5 1089.7 L1091.5 1089.7 L1091.5 1089.7 L1095.5 1089.7 L1095.5 1090.7 L1098.5 1090.7 L1098.5 1090.7 L1101.5 1090.7 L1101.5 1090.7 L1104.5 1090.7 L1104.5 1090.7 L1107.5 1090.7 L1107.5 1090.7 L1110.5 1090.7 L1110.5 1092.7 L1114.5 1092.7 L1114.5 1091.7 L1117.5 1091.7 L1117.5 1091.7 L1120.5 1091.7 L1120.5 1090.7 L1123.5 1090.7 L1123.5 1090.7 L1127.5 1090.7 L1127.5 1093.7 L1131.5 1093.7 L1131.5 1094.7 L1134.5 1094.7 L1134.5 1094.7 L1137.5 1094.7 L1137.5 1093.7 L1140.5 1093.7 L1140.5 1094.7 L1143.5 1094.7 L1143.5 1093.7 L1146.5 1093.7 L1146.5 1092.7 L1149.5 1092.7 L1149.5 1092.7 L1153.5 1092.7 L1153.5 1093.7 L1156.5 1093.7 L1156.5 1092.7 L1159.5 1092.7 L1159.5 1091.7 L1162.5 1091.7 L1162.5 1092.7 L1165.5 1092.7 L1165.5 1092.7 L1168.5 1092.7 L1168.5 1093.7 L1171.5 1093.7 L1171.5 1091.7 L1174.5 1091.7 L1174.5 1092.7 L1177.5 1092.7 L1177.5 1092.7 L1180.5 1092.7 L1180.5 1092.7 L1183.5 1092.7 L1183.5 1092.7 L1187.5 1092.7 L1187.5 1092.7 L1190.5 1092.7 L1190.5 1092.7 L1193.5 1092.7 L1193.5 1093.7 L1196.5 1093.7 L1196.5 1093.7 L1199.5 1093.7 L1199.5 1094.7 L1203.5 1094.7 L1203.5 1094.7 L1206.5 1094.7 L1206.5 1095.7 L1209.5 1095.7 L1209.5 1095.7 L1212.5 1095.7 L1212.5 1096.7 L1215.5 1096.7 L1215.5 1096.7 L1218.5 1096.7 L1218.5 1096.7 L1221.5 1096.7 L1221.5 1096.7 L1225.5 1096.7 L1225.5 1096.7 L1228.5 1096.7 L1228.5 1096.7 L1231.5 1096.7 L1231.5 1095.7 L1234.5 1095.7 L1234.5 1095.7 L1237.5 1095.7 L1237.5 1094.7 L1240.5 1094.7 L1240.5 1095.7 L1243.5 1095.7 L1243.5 1094.7 L1246.5 1094.7 L1246.5 1095.7 L1249.5 1095.7 L1249.5 1095.7 L1252.5 1095.7 L1252.5 1095.7 L1255.5 1095.7 L1255.5 1094.7 L1258.5 1094.7 L1258.5 1095.7 L1261.5 1095.7 L1261.5 1095.7 L1264.5 1095.7 L1264.5 1093.7 L1267.5 1093.7 L1267.5 1094.7 L1270.5 1094.7 L1270.5 1091.7 L1274.5 1091.7 L1274.5 1092.7 L1277.5 1092.7 L1277.5 1092.7 L1281.5 1092.7 L1281.5 1094.7 L1285.5 1094.7 L1285.5 1094.7 L1288.5 1094.7 L1288.5 1094.7 L1291.5 1094.7 L1291.5 1094.7 L1295.5 1094.7 L1295.5 1095.7 L1299.5 1095.7 L1299.5 1097.7 L1303.5 1097.7 L1303.5 1098.7 L1306.5 1098.7 L1306.5 1098.7 L1310.5 1098.7 L1310.5 1098.7 L1314.5 1098.7 L1314.5 1099.7 L1317.5 1099.7 L1317.5 1099.7 L1320.5 1099.7 L1320.5 1099.7 L1323.5 1099.7 L1323.5 1099.7 L1326.5 1099.7 L1326.5 1099.7 L1329.5 1099.7 L1329.5 1099.7 L1332.5 1099.7 L1332.5 1098.7 L1336.5 1098.7 L1336.5 1098.7 L1339.5 1098.7 L1339.5 1098.7 L1342.5 1098.7 L1342.5 1097.7 L1346.5 1097.7 L1346.5 1097.7 L1350.5 1097.7 L1350.5 1097.7 L1353.5 1097.7 L1353.5 1097.7 L1356.5 1097.7 L1356.5 1096.7 L1359.5 1096.7 L1359.5 1095.7 L1362.5 1095.7 L1362.5 1094.7 L1365.5 1094.7 L1365.5 1094.7 L1369.5 1094.7 L1369.5 1095.7 L1372.5 1095.7 L1372.5 1095.7 L1376.5 1095.7 L1376.5 1095.7 L1379.5 1095.7 L1379.5 1096.7 L1382.5 1096.7 L1382.5 1097.7 L1385.5 1097.7 L1385.5 1097.7 L1388.5 1097.7 L1388.5 1096.7 L1391.5 1096.7 L1391.5 1095.7 L1394.5 1095.7 L1394.5 1095.7 L1397.5 1095.7 L1397.5 1094.7 L1400.5 1094.7 L1400.5 1095.7 L1405.5 1095.7 L1405.5 1097.7 L1409.5 1097.7 L1409.5 1100.7 L1412.5 1100.7 L1412.5 1098.7 L1415.5 1098.7 L1415.5 1099.7 L1418.5 1099.7 L1418.5 1100.7 L1421.5 1100.7 L1421.5 1098.7 L1425.5 1098.7 L1425.5 1098.7 L1429.5 1098.7 L1429.5 1099.7 L1433.5 1099.7 L1433.5 1101.7 L1436.5 1101.7 L1436.5 1101.7 L1439.5 1101.7 L1439.5 1101.7 L1442.5 1101.7 L1442.5 1101.7 L1446.5 1101.7 L1446.5 1102.7 L1449.5 1102.7 L1449.5 1102.7 L1452.5 1102.7 L1452.5 1101.7 L1455.5 1101.7 L1455.5 1100.7 L1458.5 1100.7 L1458.5 1100.7 L1462.5 1100.7 L1462.5 1099.7 L1465.5 1099.7 L1465.5 1099.7 L1468.5 1099.7 L1468.5 1099.7 L1472.5 1099.7 L1472.5 1098.7 L1475.5 1098.7 L1475.5 1099.7 L1478.5 1099.7 L1478.5 1099.7 L1481.5 1099.7 L1481.5 1099.7 L1485.5 1099.7 L1485.5 1100.7 L1488.5 1100.7 L1488.5 1101.7 L1491.5 1101.7 L1491.5 1101.7 L1495.5 1101.7 L1495.5 1101.7 L1498.5 1101.7 L1498.5 1102.7 L1501.5 1102.7 L1501.5 1101.7 L1505.5 1101.7 L1505.5 1101.7 L1508.5 1101.7 L1508.5 1101.7 L1512.5 1101.7 L1512.5 1101.7 L1516.5 1101.7 L1516.5 1101.7 L1520.5 1101.7 L1520.5 1102.7 L1524.5 1102.7 L1524.5 1103.7 L1528.5 1103.7 L1528.5 1103.7 L1531.5 1103.7 L1531.5 1102.7 L1535.5 1102.7 L1535.5 1103.7 L1538.5 1103.7 L1538.5 1102.7 L1542.5 1102.7 L1542.5 1101.7 L1545.5 1101.7 L1545.5 1104.7 L1548.5 1104.7 L1548.5 1103.7 L1551.5 1103.7 L1551.5 1103.7 L1555.5 1103.7 L1555.5 1104.7 L1558.5 1104.7 L1558.5 1104.7 L1561.5 1104.7 L1561.5 1104.7 L1565.5 1104.7 L1565.5 1104.7 L1568.5 1104.7 L1568.5 1105.7 L1571.5 1105.7 L1571.5 1105.7 L1575.5 1105.7 L1575.5 1103.7 L1578.5 1103.7 L1578.5 1101.7 L1581.5 1101.7 L1581.5 1100.7 L1585.5 1100.7 L1585.5 1100.7 L1588.5 1100.7 L1588.5 1099.7 L1591.5 1099.7 L1591.5 1099.7 L1594.5 1099.7 L1594.5 1099.7 L1597.5 1099.7 L1597.5 1099.7 L1600.5 1099.7 L1600.5 1098.7 L1604.5 1098.7 L1604.5 1099.7 L1607.5 1099.7 L1607.5 1098.7 L1610.5 1098.7 L1610.5 1097.7 L1613.5 1097.7 L1613.5 1097.7 L1617.5 1097.7 L1617.5 1096.7 L1620.5 1096.7 L1620.5 1098.7 L1623.5 1098.7 L1623.5 1098.7 L1626.5 1098.7 L1626.5 1098.7 L1629.5 1098.7 L1629.5 1099.7 L1632.5 1099.7 L1632.5 1099.7 L1635.5 1099.7 L1635.5 1099.7 L1638.5 1099.7 L1638.5 1099.7 L1641.5 1099.7 L1641.5 1099.7 L1645.5 1099.7 L1645.5 1098.7 L1648.5 1098.7 L1648.5 1098.7 L1651.5 1098.7 L1651.5 1097.7 L1654.5 1097.7 L1654.5 1098.7 L1657.5 1098.7 L1657.5 1098.7 L1660.5 1098.7 L1660.5 1097.7 L1663.5 1097.7 L1663.5 1098.7 L1667.5 1098.7 L1667.5 1098.7" stroke="#dcf1f6" stroke-width="2.5" fill="none"/>
<path d="M317.5 1098.5 L320.5 1098.5 L320.5 1098.5 L323.5 1098.5 L323.5 1098.5 L326.5 1098.5 L326.5 1098.5 L329.5 1098.5 L329.5 1098.5 L332.5 1098.5 L332.5 1098.5 L335.5 1098.5 L335.5 1098.5 L338.5 1098.5 L338.5 1098.5 L341.5 1098.5 L341.5 1098.5 L344.5 1098.5 L344.5 1098.5 L347.5 1098.5 L347.5 1098.5 L350.5 1098.5 L350.5 1098.5 L353.5 1098.5 L353.5 1098.5 L356.5 1098.5 L356.5 1098.5 L359.5 1098.5 L359.5 1098.5 L362.5 1098.5 L362.5 1098.5 L365.5 1098.5 L365.5 1098.5 L368.5 1098.5 L368.5 1098.5 L371.5 1098.5 L371.5 1098.5 L374.5 1098.5 L374.5 1098.5 L377.5 1098.5 L377.5 1098.5 L380.5 1098.5 L380.5 1098.5 L383.5 1098.5 L383.5 1098.5 L386.5 1098.5 L386.5 1098.5 L389.5 1098.5 L389.5 1098.5 L392.5 1098.5 L392.5 1098.5 L395.5 1098.5 L395.5 1098.5 L398.5 1098.5 L398.5 1098.5 L401.5 1098.5 L401.5 1098.5 L404.5 1098.5 L404.5 1098.5 L407.5 1098.5 L407.5 1098.5 L410.5 1098.5 L410.5 1098.5 L413.5 1098.5 L413.5 1098.5 L416.5 1098.5 L416.5 1098.5 L419.5 1098.5 L419.5 1098.5 L422.5 1098.5 L422.5 1098.5 L425.5 1098.5 L425.5 1098.5 L428.5 1098.5 L428.5 1098.5 L431.5 1098.5 L431.5 1098.5 L434.5 1098.5 L434.5 1098.5 L437.5 1098.5 L437.5 1098.5 L440.5 1098.5 L440.5 1098.5 L443.5 1098.5 L443.5 1098.5 L446.5 1098.5 L446.5 1098.5 L449.5 1098.5 L449.5 1098.5 L452.5 1098.5 L452.5 1098.5 L455.5 1098.5 L455.5 1098.5 L458.5 1098.5 L458.5 1098.5 L461.5 1098.5 L461.5 1098.5 L464.5 1098.5 L464.5 1098.5 L467.5 1098.5 L467.5 1098.5 L470.5 1098.5 L470.5 1098.5 L473.5 1098.5 L473.5 1098.5 L476.5 1098.5 L476.5 1098.5 L479.5 1098.5 L479.5 1098.5 L482.5 1098.5 L482.5 1098.5 L485.5 1098.5 L485.5 1098.5 L488.5 1098.5 L488.5 1098.5 L491.5 1098.5 L491.5 1098.5 L494.5 1098.5 L494.5 1098.5 L497.5 1098.5 L497.5 1098.5 L500.5 1098.5 L500.5 1098.5 L503.5 1098.5 L503.5 1098.5 L506.5 1098.5 L506.5 1098.5 L509.5 1098.5 L509.5 1098.5 L512.5 1098.5 L512.5 1098.5 L515.5 1098.5 L515.5 1098.5 L518.5 1098.5 L518.5 1098.5 L521.5 1098.5 L521.5 1098.5 L524.5 1098.5 L524.5 1098.5 L527.5 1098.5 L527.5 1098.5 L530.5 1098.5 L530.5 1098.5 L533.5 1098.5 L533.5 1098.5 L536.5 1098.5 L536.5 1098.5 L539.5 1098.5 L539.5 1098.5 L542.5 1098.5 L542.5 1098.5 L545.5 1098.5 L545.5 1098.5 L548.5 1098.5 L548.5 1098.5 L551.5 1098.5 L551.5 1098.5 L554.5 1098.5 L554.5 1098.5 L557.5 1098.5 L557.5 1098.5 L560.5 1098.5 L560.5 1098.5 L563.5 1098.5 L563.5 1098.5 L566.5 1098.5 L566.5 1098.5 L569.5 1098.5 L569.5 1098.5 L572.5 1098.5 L572.5 1098.5 L575.5 1098.5 L575.5 1098.5 L579.5 1098.5 L579.5 1098.5 L582.5 1098.5 L582.5 1098.5 L585.5 1098.5 L585.5 1098.5 L588.5 1098.5 L588.5 1098.5 L591.5 1098.5 L591.5 1098.5 L594.5 1098.5 L594.5 1098.5 L597.5 1098.5 L597.5 1098.5 L600.5 1098.5 L600.5 1098.5 L603.5 1098.5 L603.5 1098.5 L606.5 1098.5 L606.5 1098.5 L609.5 1098.5 L609.5 1098.5 L612.5 1098.5 L612.5 1098.5 L615.5 1098.5 L615.5 1098.5 L618.5 1098.5 L618.5 1098.5 L621.5 1098.5 L621.5 1098.5 L624.5 1098.5 L624.5 1098.5 L627.5 1098.5 L627.5 1098.5 L630.5 1098.5 L630.5 1098.5 L633.5 1098.5 L633.5 1098.5 L636.5 1098.5 L636.5 1098.5 L639.5 1098.5 L639.5 1098.5 L642.5 1098.5 L642.5 1098.5 L645.5 1098.5 L645.5 1098.5 L648.5 1098.5 L648.5 1098.5 L651.5 1098.5 L651.5 1098.5 L654.5 1098.5 L654.5 1098.5 L657.5 1098.5 L657.5 1098.5 L660.5 1098.5 L660.5 1098.5 L663.5 1098.5 L663.5 1098.5 L666.5 1098.5 L666.5 1098.5 L669.5 1098.5 L669.5 1098.5 L672.5 1098.5 L672.5 1098.5 L675.5 1098.5 L675.5 1098.5 L678.5 1098.5 L678.5 1098.5 L681.5 1098.5 L681.5 1098.5 L684.5 1098.5 L684.5 1098.5 L687.5 1098.5 L687.5 1098.5 L690.5 1098.5 L690.5 1098.5 L693.5 1098.5 L693.5 1098.5 L696.5 1098.5 L696.5 1098.5 L699.5 1098.5 L699.5 1098.5 L702.5 1098.5 L702.5 1098.5 L705.5 1098.5 L705.5 1098.5 L708.5 1098.5 L708.5 1098.5 L711.5 1098.5 L711.5 1098.5 L714.5 1098.5 L714.5 1098.5 L717.5 1098.5 L717.5 1098.5 L720.5 1098.5 L720.5 1098.5 L723.5 1098.5 L723.5 1098.5 L726.5 1098.5 L726.5 1098.5 L729.5 1098.5 L729.5 1098.5 L732.5 1098.5 L732.5 1098.5 L735.5 1098.5 L735.5 1098.5 L738.5 1098.5 L738.5 1098.5 L741.5 1098.5 L741.5 1098.5 L744.5 1098.5 L744.5 1098.5 L747.5 1098.5 L747.5 1098.5 L750.5 1098.5 L750.5 1098.5 L753.5 1098.5 L753.5 1098.5 L756.5 1098.5 L756.5 1098.5 L759.5 1098.5 L759.5 1098.5 L762.5 1098.5 L762.5 1098.5 L765.5 1098.5 L765.5 1098.5 L768.5 1098.5 L768.5 1098.5 L771.5 1098.5 L771.5 1098.5 L774.5 1098.5 L774.5 1098.5 L777.5 1098.5 L777.5 1098.5 L780.5 1098.5 L780.5 1098.5 L783.5 1098.5 L783.5 1098.5 L786.5 1098.5 L786.5 1098.5 L789.5 1098.5 L789.5 1098.5 L792.5 1098.5 L792.5 1098.5 L795.5 1098.5 L795.5 1098.5 L798.5 1098.5 L798.5 1098.5 L801.5 1098.5 L801.5 1098.5 L804.5 1098.5 L804.5 1098.5 L807.5 1098.5 L807.5 1098.5 L810.5 1098.5 L810.5 1098.5 L813.5 1098.5 L813.5 1098.5 L816.5 1098.5 L816.5 1098.5 L819.5 1098.5 L819.5 1098.5 L822.5 1098.5 L822.5 1098.5 L825.5 1098.5 L825.5 1098.5 L828.5 1098.5 L828.5 1098.5 L831.5 1098.5 L831.5 1098.5 L834.5 1098.5 L834.5 1098.5 L838.5 1098.5 L838.5 1098.5 L838.5 1098.5 L838.5 1100.5 L841.5 1100.5 L841.5 1100.5 L844.5 1100.5 L844.5 1100.5 L847.5 1100.5 L847.5 1100.5 L850.5 1100.5 L850.5 1100.5 L853.5 1100.5 L853.5 1100.5 L856.5 1100.5 L856.5 1100.5 L859.5 1100.5 L859.5 1100.5 L862.5 1100.5 L862.5 1100.5 L862.5 1100.5 L862.5 1022.5 L865.5 1022.5 L865.5 1022.5 L865.5 1022.5 L865.5 1004.5 L868.5 1004.5 L868.5 1004.5 L871.5 1004.5 L871.5 1004.5 L874.5 1004.5 L874.5 1007.5 L879.5 1007.5 L879.5 1011.5 L884.5 1011.5 L884.5 1017.5 L889.5 1017.5 L889.5 1022.5 L889.5 1022.5 L889.5 1027.5 L893.5 1027.5 L893.5 1031.5 L896.5 1031.5 L896.5 1031.5 L899.5 1031.5 L899.5 1032.5 L903.5 1032.5 L903.5 1032.5 L903.5 1032.5 L903.5 1036.5 L908.5 1036.5 L908.5 1038.5 L911.5 1038.5 L911.5 1038.5 L914.5 1038.5 L914.5 1039.5 L917.5 1039.5 L917.5 1040.5 L920.5 1040.5 L920.5 1041.5 L924.5 1041.5 L924.5 1040.5 L928.5 1040.5 L928.5 1044.5 L931.5 1044.5 L931.5 1044.5 L934.5 1044.5 L934.5 1045.5 L938.5 1045.5 L938.5 1044.5 L941.5 1044.5 L941.5 1047.5 L944.5 1047.5 L944.5 1051.5 L948.5 1051.5 L948.5 1054.5 L952.5 1054.5 L952.5 1055.5 L955.5 1055.5 L955.5 1056.5 L958.5 1056.5 L958.5 1054.5 L962.5 1054.5 L962.5 1055.5 L966.5 1055.5 L966.5 1060.5 L969.5 1060.5 L969.5 1063.5 L973.5 1063.5 L973.5 1063.5 L976.5 1063.5 L976.5 1063.5 L979.5 1063.5 L979.5 1063.5 L982.5 1063.5 L982.5 1065.5 L985.5 1065.5 L985.5 1065.5 L989.5 1065.5 L989.5 1066.5 L992.5 1066.5 L992.5 1068.5 L995.5 1068.5 L995.5 1071.5 L998.5 1071.5 L998.5 1071.5 L1001.5 1071.5 L1001.5 1072.5 L1005.5 1072.5 L1005.5 1073.5 L1008.5 1073.5 L1008.5 1074.5 L1011.5 1074.5 L1011.5 1073.5 L1014.5 1073.5 L1014.5 1073.5 L1017.5 1073.5 L1017.5 1074.5 L1020.5 1074.5 L1020.5 1075.5 L1024.5 1075.5 L1024.5 1078.5 L1027.5 1078.5 L1027.5 1077.5 L1030.5 1077.5 L1030.5 1078.5 L1033.5 1078.5 L1033.5 1078.5 L1036.5 1078.5 L1036.5 1079.5 L1039.5 1079.5 L1039.5 1080.5 L1043.5 1080.5 L1043.5 1080.5 L1047.5 1080.5 L1047.5 1082.5 L1050.5 1082.5 L1050.5 1081.5 L1053.5 1081.5 L1053.5 1082.5 L1056.5 1082.5 L1056.5 1082.5 L1060.5 1082.5 L1060.5 1082.5 L1063.5 1082.5 L1063.5 1081.5 L1066.5 1081.5 L1066.5 1082.5 L1070.5 1082.5 L1070.5 1082.5 L1073.5 1082.5 L1073.5 1082.5 L1077.5 1082.5 L1077.5 1082.5 L1080.5 1082.5 L1080.5 1083.5 L1080.5 1083.5 L1080.5 1087.5 L1084.5 1087.5 L1084.5 1086.5 L1087.5 1086.5 L1087.5 1087.5 L1091.5 1087.5 L1091.5 1087.5 L1095.5 1087.5 L1095.5 1088.5 L1098.5 1088.5 L1098.5 1088.5 L1101.5 1088.5 L1101.5 1088.5 L1104.5 1088.5 L1104.5 1088.5 L1107.5 1088.5 L1107.5 1088.5 L1110.5 1088.5 L1110.5 1090.5 L1114.5 1090.5 L1114.5 1089.5 L1117.5 1089.5 L1117.5 1089.5 L1120.5 1089.5 L1120.5 1088.5 L1123.5 1088.5 L1123.5 1088.5 L1127.5 1088.5 L1127.5 1091.5 L1131.5 1091.5 L1131.5 1092.5 L1134.5 1092.5 L1134.5 1092.5 L1137.5 1092.5 L1137.5 1091.5 L1140.5 1091.5 L1140.5 1092.5 L1143.5 1092.5 L1143.5 1091.5 L1146.5 1091.5 L1146.5 1090.5 L1149.5 1090.5 L1149.5 1090.5 L1153.5 1090.5 L1153.5 1091.5 L1156.5 1091.5 L1156.5 1090.5 L1159.5 1090.5 L1159.5 1089.5 L1162.5 1089.5 L1162.5 1090.5 L1165.5 1090.5 L1165.5 1090.5 L1168.5 1090.5 L1168.5 1091.5 L1171.5 1091.5 L1171.5 1089.5 L1174.5 1089.5 L1174.5 1090.5 L1177.5 1090.5 L1177.5 1090.5 L1180.5 1090.5 L1180.5 1090.5 L1183.5 1090.5 L1183.5 1090.5 L1187.5 1090.5 L1187.5 1090.5 L1190.5 1090.5 L1190.5 1090.5 L1193.5 1090.5 L1193.5 1091.5 L1196.5 1091.5 L1196.5 1091.5 L1199.5 1091.5 L1199.5 1092.5 L1203.5 1092.5 L1203.5 1092.5 L1206.5 1092.5 L1206.5 1093.5 L1209.5 1093.5 L1209.5 1093.5 L1212.5 1093.5 L1212.5 1094.5 L1215.5 1094.5 L1215.5 1094.5 L1218.5 1094.5 L1218.5 1094.5 L1221.5 1094.5 L1221.5 1094.5 L1225.5 1094.5 L1225.5 1094.5 L1228.5 1094.5 L1228.5 1094.5 L1231.5 1094.5 L1231.5 1093.5 L1234.5 1093.5 L1234.5 1093.5 L1237.5 1093.5 L1237.5 1092.5 L1240.5 1092.5 L1240.5 1093.5 L1243.5 1093.5 L1243.5 1092.5 L1246.5 1092.5 L1246.5 1093.5 L1249.5 1093.5 L1249.5 1093.5 L1252.5 1093.5 L1252.5 1093.5 L1255.5 1093.5 L1255.5 1092.5 L1258.5 1092.5 L1258.5 1093.5 L1261.5 1093.5 L1261.5 1093.5 L1264.5 1093.5 L1264.5 1091.5 L1267.5 1091.5 L1267.5 1092.5 L1270.5 1092.5 L1270.5 1089.5 L1274.5 1089.5 L1274.5 1090.5 L1277.5 1090.5 L1277.5 1090.5 L1281.5 1090.5 L1281.5 1092.5 L1285.5 1092.5 L1285.5 1092.5 L1288.5 1092.5 L1288.5 1092.5 L1291.5 1092.5 L1291.5 1092.5 L1295.5 1092.5 L1295.5 1093.5 L1299.5 1093.5 L1299.5 1095.5 L1303.5 1095.5 L1303.5 1096.5 L1306.5 1096.5 L1306.5 1096.5 L1310.5 1096.5 L1310.5 1096.5 L1314.5 1096.5 L1314.5 1097.5 L1317.5 1097.5 L1317.5 1097.5 L1320.5 1097.5 L1320.5 1097.5 L1323.5 1097.5 L1323.5 1097.5 L1326.5 1097.5 L1326.5 1097.5 L1329.5 1097.5 L1329.5 1097.5 L1332.5 1097.5 L1332.5 1096.5 L1336.5 1096.5 L1336.5 1096.5 L1339.5 1096.5 L1339.5 1096.5 L1342.5 1096.5 L1342.5 1095.5 L1346.5 1095.5 L1346.5 1095.5 L1350.5 1095.5 L1350.5 1095.5 L1353.5 1095.5 L1353.5 1095.5 L1356.5 1095.5 L1356.5 1094.5 L1359.5 1094.5 L1359.5 1093.5 L1362.5 1093.5 L1362.5 1092.5 L1365.5 1092.5 L1365.5 1092.5 L1369.5 1092.5 L1369.5 1093.5 L1372.5 1093.5 L1372.5 1093.5 L1376.5 1093.5 L1376.5 1093.5 L1379.5 1093.5 L1379.5 1094.5 L1382.5 1094.5 L1382.5 1095.5 L1385.5 1095.5 L1385.5 1095.5 L1388.5 1095.5 L1388.5 1094.5 L1391.5 1094.5 L1391.5 1093.5 L1394.5 1093.5 L1394.5 1093.5 L1397.5 1093.5 L1397.5 1092.5 L1400.5 1092.5 L1400.5 1093.5 L1405.5 1093.5 L1405.5 1095.5 L1409.5 1095.5 L1409.5 1098.5 L1412.5 1098.5 L1412.5 1096.5 L1415.5 1096.5 L1415.5 1097.5 L1418.5 1097.5 L1418.5 1098.5 L1421.5 1098.5 L1421.5 1096.5 L1425.5 1096.5 L1425.5 1096.5 L1429.5 1096.5 L1429.5 1097.5 L1433.5 1097.5 L1433.5 1099.5 L1436.5 1099.5 L1436.5 1099.5 L1439.5 1099.5 L1439.5 1099.5 L1442.5 1099.5 L1442.5 1099.5 L1446.5 1099.5 L1446.5 1100.5 L1449.5 1100.5 L1449.5 1100.5 L1452.5 1100.5 L1452.5 1099.5 L1455.5 1099.5 L1455.5 1098.5 L1458.5 1098.5 L1458.5 1098.5 L1462.5 1098.5 L1462.5 1097.5 L1465.5 1097.5 L1465.5 1097.5 L1468.5 1097.5 L1468.5 1097.5 L1472.5 1097.5 L1472.5 1096.5 L1475.5 1096.5 L1475.5 1097.5 L1478.5 1097.5 L1478.5 1097.5 L1481.5 1097.5 L1481.5 1097.5 L1485.5 1097.5 L1485.5 1098.5 L1488.5 1098.5 L1488.5 1099.5 L1491.5 1099.5 L1491.5 1099.5 L1495.5 1099.5 L1495.5 1099.5 L1498.5 1099.5 L1498.5 1100.5 L1501.5 1100.5 L1501.5 1099.5 L1505.5 1099.5 L1505.5 1099.5 L1508.5 1099.5 L1508.5 1099.5 L1512.5 1099.5 L1512.5 1099.5 L1516.5 1099.5 L1516.5 1099.5 L1520.5 1099.5 L1520.5 1100.5 L1524.5 1100.5 L1524.5 1101.5 L1528.5 1101.5 L1528.5 1101.5 L1531.5 1101.5 L1531.5 1100.5 L1535.5 1100.5 L1535.5 1101.5 L1538.5 1101.5 L1538.5 1100.5 L1542.5 1100.5 L1542.5 1099.5 L1545.5 1099.5 L1545.5 1102.5 L1548.5 1102.5 L1548.5 1101.5 L1551.5 1101.5 L1551.5 1101.5 L1555.5 1101.5 L1555.5 1102.5 L1558.5 1102.5 L1558.5 1102.5 L1561.5 1102.5 L1561.5 1102.5 L1565.5 1102.5 L1565.5 1102.5 L1568.5 1102.5 L1568.5 1103.5 L1571.5 1103.5 L1571.5 1103.5 L1575.5 1103.5 L1575.5 1101.5 L1578.5 1101.5 L1578.5 1099.5 L1581.5 1099.5 L1581.5 1098.5 L1585.5 1098.5 L1585.5 1098.5 L1588.5 1098.5 L1588.5 1097.5 L1591.5 1097.5 L1591.5 1097.5 L1594.5 1097.5 L1594.5 1097.5 L1597.5 1097.5 L1597.5 1097.5 L1600.5 1097.5 L1600.5 1096.5 L1604.5 1096.5 L1604.5 1097.5 L1607.5 1097.5 L1607.5 1096.5 L1610.5 1096.5 L1610.5 1095.5 L1613.5 1095.5 L1613.5 1095.5 L1617.5 1095.5 L1617.5 1094.5 L1620.5 1094.5 L1620.5 1096.5 L1623.5 1096.5 L1623.5 1096.5 L1626.5 1096.5 L1626.5 1096.5 L1629.5 1096.5 L1629.5 1097.5 L1632.5 1097.5 L1632.5 1097.5 L1635.5 1097.5 L1635.5 1097.5 L1638.5 1097.5 L1638.5 1097.5 L1641.5 1097.5 L1641.5 1097.5 L1645.5 1097.5 L1645.5 1096.5 L1648.5 1096.5 L1648.5 1096.5 L1651.5 1096.5 L1651.5 1095.5 L1654.5 1095.5 L1654.5 1096.5 L1657.5 1096.5 L1657.5 1096.5 L1660.5 1096.5 L1660.5 1095.5 L1663.5 1095.5 L1663.5 1096.5 L1667.5 1096.5 L1667.5 1096.5" stroke="#2e7fee" stroke-width="3" fill="none"/>
<rect x="388" y="306" width="2.3" height="740" fill="#b2bab9"/>
<rect x="390.3" y="304" width="2.7" height="742" fill="#5d6574"/>
<rect x="390.3" y="625" width="6.5" height="48.5" fill="#5a6072"/>
<rect x="389.8" y="673.5" width="7" height="50" fill="#353548"/>
<rect x="389.8" y="723" width="3.2" height="49" fill="#353548"/>
<path d="M305 1095.8 H363.5 V1091 H369.5 V1095.8 H377.4" stroke="#6a3048" stroke-width="1.6" fill="none"/>
<path d="M380 1100.6H393" stroke="#ff2a5a" stroke-width="2" fill="none"/>
<rect x="377.4" y="1067" width="2.1" height="50" fill="#b8bfbd"/>
<rect x="377.4" y="1065" width="6.4" height="2.5" fill="#34364a"/>
<rect x="381" y="1058" width="2.8" height="59.5" fill="#34364a"/>
<rect x="381" y="1058" width="6.7" height="2.3" fill="#34364a"/>
<rect x="386.2" y="976" width="1.8" height="139" fill="#2f3148"/>
<rect x="387.7" y="1015" width="2" height="20" fill="#2f3148"/>
<rect x="395" y="598" width="1.8" height="537" fill="#2f3148"/>
<rect x="399.9" y="909" width="2" height="226" fill="#2f3148"/>
<rect x="302.4" y="34.4" width="1367.2" height="1100.2" fill="none" stroke="#0a0c0c" stroke-width="4.7"/>
<path d="M304 1098.7H318 M304 744.5H318 M304 389.8H318 M529.5 1133V1118.5 M757.4 1133V1118.5 M985.2 1133V1118.5 M1213 1133V1118.5 M1440.9 1133V1118.5" stroke="#0a0c0c" stroke-width="4.7" fill="none"/>
<path d="M304 922H310" stroke="#1a1c2a" stroke-width="3" fill="none"/>
<path d="M1256 131.5H1416" stroke="#9ba4a4" stroke-width="4.6"/>
<path d="M1256 219.2H1417" stroke="#cc6a84" stroke-width="3"/>
<path d="M1256 306H1416" stroke="#cdebef" stroke-width="2.2"/>
<path d="M1256 308.3H1416" stroke="#3a86e2" stroke-width="2.4"/>
</svg>
<div class="t yl" style="left:186.5px;top:1060.5px">0</div>
<div class="t yl" style="left:186.5px;top:707.5px">1</div>
<div class="t yl" style="left:186.5px;top:350.3px">2</div>
<div class="t yl" style="left:186.5px;top:-1.35px">3</div>
<div class="t xl" style="left:222.5px;top:1145px">0</div>
<div class="t xl" style="left:453px;top:1145px">0.5</div>
<div class="t xl" style="left:680.9px;top:1145px">1.0</div>
<div class="t xl" style="left:908.7px;top:1145px">1.5</div>
<div class="t xl" style="left:1136.5px;top:1145px">2.0</div>
<div class="t xl" style="left:1364.4px;top:1145px">2.5</div>
<div class="t xl" style="left:1592.2px;top:1145px">3.0</div>
<div class="t" style="left:787px;width:400px;text-align:center;top:1209px">Time/ms</div>
<div class="t" style="left:174px;top:573px;width:600px;text-align:center;transform-origin:0 0;transform:rotate(-90deg) translate(-300px,0)">Overpressure/MPa</div>
<div class="t" style="left:1444px;top:92px">0.5 m</div>
<div class="t" style="left:1444px;top:180.5px">1.0 m</div>
<div class="t" style="left:1444px;top:268.7px">1.5 m</div>
</body></html>
